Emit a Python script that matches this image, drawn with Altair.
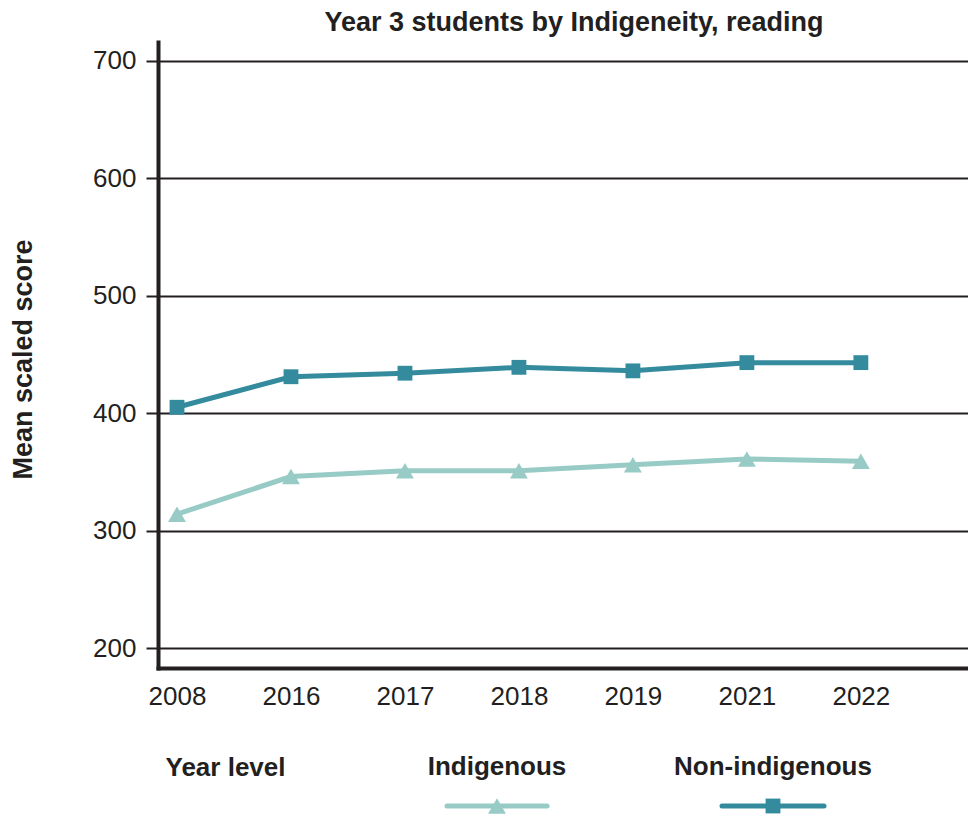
import altair as alt
import pandas as pd

years = ["2008", "2016", "2017", "2018", "2019", "2021", "2022"]
indigenous = [314, 346, 351, 351, 356, 361, 359]
non_indigenous = [405, 431, 434, 439, 436, 443, 443]
series_names = ["Indigenous", "Non-indigenous"]
series_colors = ["#98cbc5", "#338b9d"]
series_shapes = ["triangle-up", "square"]
series_sizes = [320, 220]
y_ticks = [200, 300, 400, 500, 600, 700]

rows = []
for i, yr in enumerate(years):
    rows.append({"idx": i, "year": yr, "series": series_names[0], "score": indigenous[i]})
    rows.append({"idx": i, "year": yr, "series": series_names[1], "score": non_indigenous[i]})
df = pd.DataFrame(rows)

FONT = "Liberation Sans"
INK = "#231f20"
W, H = 810, 626

label_expr = "[" + ",".join(f"'{y}'" for y in years) + "][datum.value]"

x_enc = alt.X(
    "idx:Q",
    scale=alt.Scale(domain=[-0.1667, 6.94], nice=False, zero=False),
    axis=alt.Axis(
        values=list(range(len(years))), labelExpr=label_expr,
        title="Year level", ticks=False, grid=False,
        domainWidth=4, domainColor=INK, domainCap="square",
        labelFont=FONT, labelFontSize=26, labelColor=INK, labelPadding=15,
        titleFont=FONT, titleFontSize=26, titleFontWeight="bold", titleColor=INK,
        titleX=7, titleY=107, titleAlign="left", titleBaseline="alphabetic",
    ),
)
y_enc = alt.Y(
    "score:Q",
    scale=alt.Scale(domain=[183, 716], nice=False, zero=False),
    axis=alt.Axis(
        values=y_ticks, title="Mean scaled score",
        domainWidth=4, domainColor=INK, domainCap="square",
        tickSize=12, tickWidth=2, tickColor=INK,
        grid=True, gridColor=INK, gridWidth=2, gridOpacity=1,
        labelFont=FONT, labelFontSize=26, labelColor=INK, labelPadding=10,
        titleFont=FONT, titleFontSize=27, titleFontWeight="bold", titleColor=INK,
        titleX=-127, titleY=317, titleAlign="center", titleAngle=-90,
        titleBaseline="alphabetic",
    ),
)
color_enc = alt.Color("series:N", scale=alt.Scale(domain=series_names, range=series_colors), legend=None)
shape_enc = alt.Shape("series:N", scale=alt.Scale(domain=series_names, range=series_shapes), legend=None)
size_enc = alt.Size("series:N", scale=alt.Scale(domain=series_names, range=series_sizes), legend=None)

base = alt.Chart(df)
lines = base.mark_line(strokeWidth=5).encode(x=x_enc, y=y_enc, color=color_enc, detail="series:N")
points = base.mark_point(filled=True, opacity=1).encode(
    x="idx:Q", y="score:Q", color=color_enc, shape=shape_enc, size=size_enc)

legend_layers = []
legend_pos = [(339, 289, 389), (615, 564, 666)]
for name, col, shp, sz, (cx, x1, x2) in zip(series_names, series_colors, series_shapes,
                                            series_sizes, legend_pos):
    ld = alt.Chart(pd.DataFrame({"series": [name]}))
    legend_layers.append(ld.mark_text(font=FONT, fontSize=26, fontWeight="bold", color=INK,
                                      align="center", baseline="alphabetic").encode(
        text="series:N", x=alt.value(cx), y=alt.value(733)))
    legend_layers.append(ld.mark_rule(strokeWidth=5, strokeCap="round", color=col).encode(
        x=alt.value(x1), x2=alt.value(x2), y=alt.value(764)))
    legend_layers.append(ld.mark_point(filled=True, opacity=1, size=sz, shape=shp, color=col).encode(
        x=alt.value(cx), y=alt.value(764)))

chart = alt.layer(lines, points, *legend_layers).properties(
    width=W, height=H,
    title=alt.TitleParams("Year 3 students by Indigeneity, reading", font=FONT, fontSize=27,
                          fontWeight="bold", color=INK, anchor="middle", dx=11, dy=28,
                          baseline="alphabetic", offset=12),
    autosize=alt.AutoSizeParams(type="none"),
    padding={"left": 150, "top": 34, "right": 0, "bottom": 148},
).configure(background="white").configure_view(stroke=None)

chart.save("out.html", embed_options={"renderer": "svg", "actions": False})
